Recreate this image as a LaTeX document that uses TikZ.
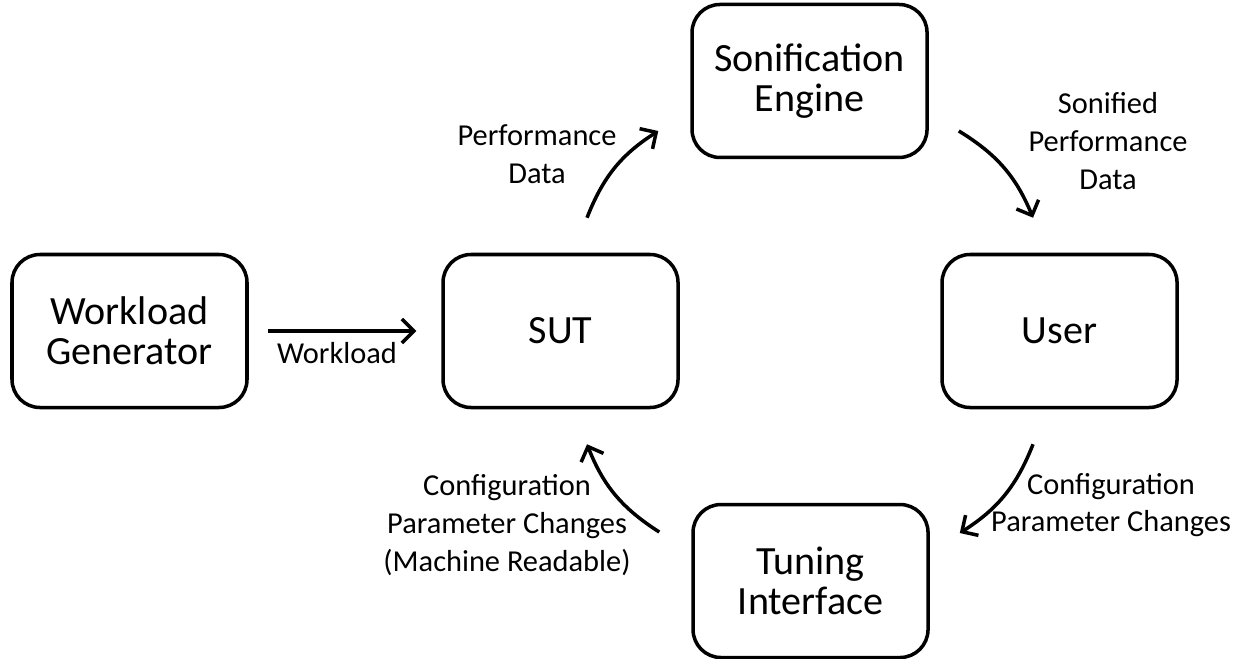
\documentclass[tikz,border=0pt]{standalone}
\usepackage{fontspec}
\setmainfont{Carlito}
\usetikzlibrary{positioning, arrows.meta}
\tikzset{
    block/.style={
        draw, rounded corners = 0.56cm,
        line width = 2pt,
        minimum width = 4.7cm,
        minimum height = 3.06cm,
        align = center,
        font = \fontsize{22.8}{22.8}\selectfont
    },
    lbl/.style = {align = center, font = \fontsize{17.3}{21.5}\selectfont},
    line/.style = {line width = 2pt, -{Straight Barb[length=2.4mm, width=4.8mm, line width=2pt]}}
}
\begin{document}
\begin{tikzpicture}

    \useasboundingbox (0,0) rectangle (24.86,-13.16);

    % Blocks
    \node[block] (gen) at (2.59,-6.62) {Workload\\Generator};
    \node[block, right = 3.85 of gen] (sut) {SUT};
    \node[block, above right = 1.87 and 0.21 of sut] (sonif) {Sonification\\Engine};
    \node[block, right = 5.21 of sut] (user) {User};
    \node[block, below right = 1.87 and 0.23 of sut] (tuning) {Tuning\\Interface};

    % Arrow ends
    \coordinate (wl-a) at ([xshift=0.38cm]gen.east);
    \coordinate (wl-b) at ([xshift=-0.5cm]sut.west);
    \coordinate (pd-a) at ([shift={(0.53,0.7)}]sut.north);
    \coordinate (pd-b) at ([shift={(-0.64,-1.0)}]sonif.west);
    \coordinate (sd-a) at ([shift={(0.6,-1.0)}]sonif.east);
    \coordinate (sd-b) at ([shift={(-0.53,0.7)}]user.north);
    \coordinate (cp-a) at ([shift={(-0.53,-0.7)}]user.south);
    \coordinate (cp-b) at ([shift={(0.6,0.96)}]tuning.east);
    \coordinate (mr-a) at ([shift={(-0.64,0.98)}]tuning.west);
    \coordinate (mr-b) at ([shift={(0.53,-0.7)}]sut.south);

    % Lines
    \draw[line] (wl-a) -- (wl-b);
    \draw[line] (pd-a) to[bend left=18] (pd-b);
    \draw[line] (sd-a) to[bend left=18] (sd-b);
    \draw[line] (cp-a) to[bend left=18] (cp-b);
    \draw[line] (mr-a) to[bend left=18] (mr-b);

    % Labels
    \node[lbl] (wl-lbl) at (6.74,-7.06) {Workload};
    \node[lbl] (pd-lbl) at (10.74,-3.08) {Performance\\Data};
    \node[lbl] (sd-lbl) at (22.16,-2.82) {Sonified\\Performance\\Data};
    \node[lbl] (cp-lbl) at (22.22,-10.1) {Configuration\\Parameter Changes};
    \node[lbl] (mr-lbl) at (10.14,-10.5) {Configuration\\Parameter Changes\\(Machine Readable)};

\end{tikzpicture}
\end{document}
